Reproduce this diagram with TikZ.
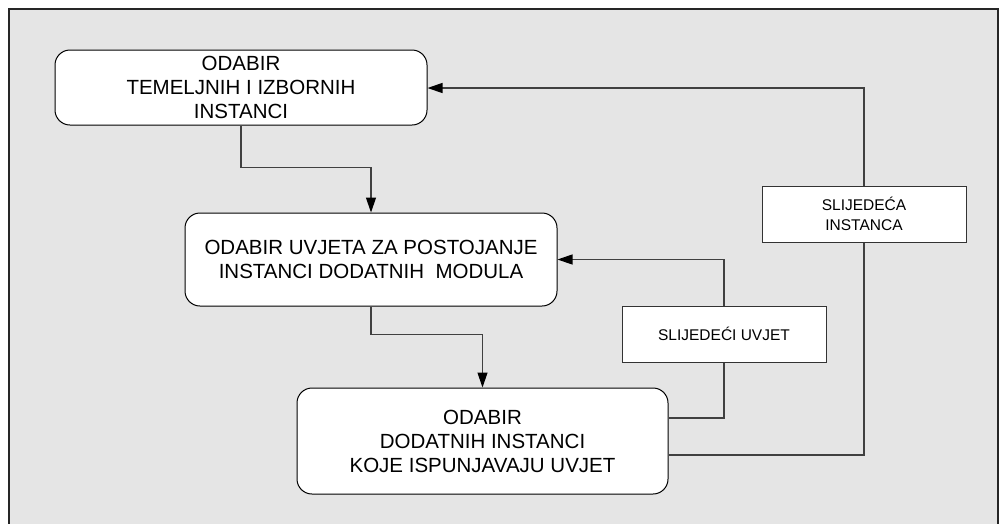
\documentclass[tikz,border=0pt]{standalone}
\usepackage{fontspec}
\setmainfont{Liberation Sans}
\usetikzlibrary{arrows.meta}
\begin{document}
\begin{tikzpicture}[x=1pt,y=-1pt,
  mainbox/.style={draw=black, line width=1pt, fill=white, rounded corners=15pt, align=center, inner sep=0pt,
    font=\fontsize{20.5}{24}\selectfont},
  labelbox/.style={draw=black!80, line width=1pt, fill=white, align=center, inner sep=0pt,
    font=\fontsize{15.5}{20}\selectfont},
  conn/.style={draw=black!75, line width=1.2pt},
  arr/.style={conn, -{Triangle[length=15pt,width=10pt]}, arrows={[color=black]}}
]
\useasboundingbox (0,0) rectangle (1000,523);
\fill[gray!20] (9,9) rectangle (998,540);
\draw[black!85, line width=1.6pt] (9,540) -- (9,9) -- (998,9) -- (998,540);

\node[mainbox, minimum width=372pt, minimum height=75pt] (b1) at (241,87.5)
  {ODABIR\\TEMELJNIH I IZBORNIH\\INSTANCI};
\node[mainbox, minimum width=372pt, minimum height=93pt] (b2) at (371,259.5)
  {ODABIR UVJETA ZA POSTOJANJE\\INSTANCI DODATNIH\ \ MODULA};
\node[mainbox, minimum width=371pt, minimum height=106pt] (b3) at (482.5,441)
  {ODABIR\\DODATNIH INSTANCI\\KOJE ISPUNJAVAJU UVJET};
\node[labelbox, minimum width=204pt, minimum height=56pt] (su) at (724,334)
  {SLIJEDEĆI UVJET};
\node[labelbox, minimum width=204pt, minimum height=56pt] (si) at (864,214)
  {SLIJEDEĆA\\INSTANCA};

\draw[arr] (b1.south) -- ++(0,42) -| (b2.north);
\draw[arr] (b2.south) -- ++(0,28) -| (b3.north);
\draw[conn] ([yshift=23pt]b3.east) -| (su.south);
\draw[arr] (su.north) |- (b2.east);
\draw[conn] ([yshift=-14pt]b3.east) -| (si.south);
\draw[arr] (si.north) |- ([yshift=-0.5pt]b1.east);
\end{tikzpicture}
\end{document}
